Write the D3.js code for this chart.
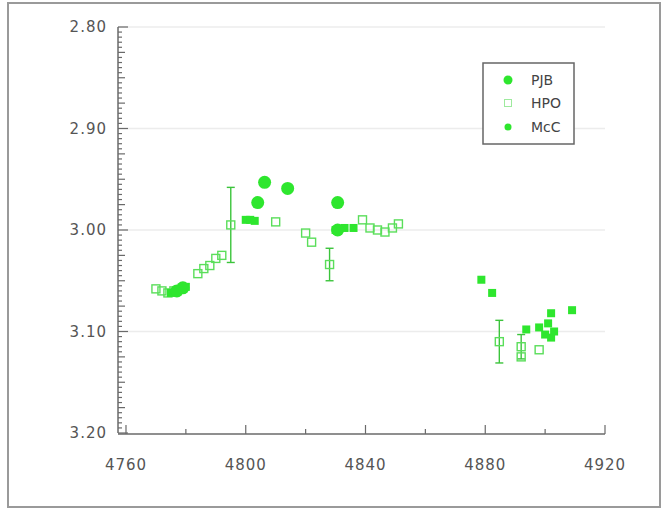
<!DOCTYPE html>
<html><head><meta charset="utf-8">
<script src="https://cdn.jsdelivr.net/npm/d3@7"></script>
<style>body{margin:0;background:#fff}svg{display:block}text{font-family:"DejaVu Sans",sans-serif}</style>
</head><body><svg id="c" width="666" height="512"></svg>
<script>
// ---- data ----
const yTicks = [2.80, 2.90, 3.00, 3.10, 3.20];
const xTicks = [4760, 4800, 4840, 4880, 4920];
const seriesNames = ["PJB", "HPO", "McC"];
// PJB: filled circles
const pjbX = [4777, 4779, 4804, 4806.3, 4814, 4830.7, 4830.7];
const pjbY = [3.060, 3.057, 2.973, 2.953, 2.959, 2.973, 3.000];
// HPO: open squares (with optional error)
const hpoX = [4770, 4772, 4774, 4776, 4784, 4786, 4788, 4790, 4792, 4795, 4810, 4820, 4822, 4828, 4839, 4841.5, 4844, 4846.5, 4849, 4851, 4884.7, 4892, 4892, 4898];
const hpoY = [3.058, 3.060, 3.062, 3.060, 3.043, 3.038, 3.035, 3.028, 3.025, 2.995, 2.992, 3.003, 3.012, 3.034, 2.990, 2.998, 3.000, 3.002, 2.998, 2.994, 3.110, 3.115, 3.125, 3.118];
const hpoErr = [0, 0, 0, 0, 0, 0, 0, 0, 0, 0.037, 0, 0, 0, 0.016, 0, 0, 0, 0, 0, 0, 0.021, 0.012, 0, 0];
// McC: small filled markers
const mccX = [4775, 4780, 4800, 4801.5, 4803, 4830, 4833, 4836, 4878.7, 4882.3, 4893.7, 4898, 4900, 4901, 4902, 4903, 4902, 4909];
const mccY = [3.062, 3.056, 2.990, 2.990, 2.991, 3.000, 2.998, 2.998, 3.049, 3.062, 3.098, 3.096, 3.103, 3.092, 3.106, 3.100, 3.082, 3.079];

const svg = d3.select("#c");
const green = "#2ee62e";
// outer frame
svg.append("rect").attr("x", 8).attr("y", 3).attr("width", 652).attr("height", 504)
  .attr("fill", "none").attr("stroke", "#9a9a9a").attr("stroke-width", 2);

const x = d3.scaleLinear().domain([4757.33, 4920]).range([118, 605]);
const y = d3.scaleLinear().domain([2.80, 3.20]).range([27, 433]);

// grid
svg.append("g").selectAll("line").data(yTicks.slice(0, 4)).join("line")
  .attr("x1", x(4757.33)).attr("x2", x(4920)).attr("y1", d => y(d)).attr("y2", d => y(d))
  .attr("stroke", "#ececec").attr("stroke-width", 1.5);

// y axis
const yMinor = d3.range(0, 81).map(i => 2.80 + i * 0.005);
const yAx = svg.append("g").attr("transform", "translate(118,0)");
yAx.append("line").attr("y1", y(2.80)).attr("y2", y(3.20)).attr("stroke", "#6a6a6a").attr("stroke-width", 1.5);
yAx.selectAll("line.m").data(yMinor).join("line").attr("class", "m")
  .attr("x1", 0).attr("x2", (d, i) => i % 20 === 0 ? 10 : (i % 5 === 0 ? 7 : 4))
  .attr("y1", d => y(d)).attr("y2", d => y(d)).attr("stroke", "#6a6a6a").attr("stroke-width", 1.2);
yAx.selectAll("text").data(yTicks).join("text")
  .attr("x", -11).attr("y", d => y(d)).attr("dy", "0.35em").attr("text-anchor", "end")
  .attr("font-size", 15).attr("letter-spacing", 1).attr("fill", "#555")
  .text(d => d3.format(".2f")(d));

// x axis
const xAx = svg.append("g").attr("transform", "translate(0,434)");
xAx.append("line").attr("x1", x(4757.33)).attr("x2", x(4920)).attr("stroke", "#6a6a6a").attr("stroke-width", 1.5);
const xMinor = d3.range(4760, 4921, 20);
xAx.selectAll("line.t").data(xMinor).join("line").attr("class", "t")
  .attr("x1", d => x(d)).attr("x2", d => x(d)).attr("y1", 0)
  .attr("y2", d => (d - 4760) % 40 === 0 ? -9 : -5).attr("stroke", "#6a6a6a").attr("stroke-width", 1.2);
xAx.selectAll("text").data(xTicks).join("text")
  .attr("x", d => x(d)).attr("y", 36).attr("text-anchor", "middle")
  .attr("font-size", 15).attr("letter-spacing", 1).attr("fill", "#555")
  .text(d => d);

// HPO error bars
const hpo = hpoX.map((v, i) => ({x: v, y: hpoY[i], e: hpoErr[i]}));
const eb = svg.append("g").attr("stroke", "#3bc43b").attr("stroke-width", 1.4);
hpo.filter(d => d.e > 0).forEach(d => {
  eb.append("line").attr("x1", x(d.x)).attr("x2", x(d.x)).attr("y1", y(d.y - d.e)).attr("y2", y(d.y + d.e));
  [d.y - d.e, d.y + d.e].forEach(v => eb.append("line").attr("x1", x(d.x) - 4).attr("x2", x(d.x) + 4).attr("y1", y(v)).attr("y2", y(v)));
});
// HPO squares
svg.append("g").selectAll("rect").data(hpo).join("rect")
  .attr("x", d => x(d.x) - 4).attr("y", d => y(d.y) - 4).attr("width", 8).attr("height", 8)
  .attr("fill", "none").attr("stroke", "#5ade5a").attr("stroke-width", 1.4);
// McC
const mcc = mccX.map((v, i) => ({x: v, y: mccY[i]}));
svg.append("g").selectAll("rect").data(mcc).join("rect")
  .attr("x", d => x(d.x) - 4).attr("y", d => y(d.y) - 4).attr("width", 8).attr("height", 8)
  .attr("fill", green);
// PJB
const pjb = pjbX.map((v, i) => ({x: v, y: pjbY[i]}));
svg.append("g").selectAll("circle").data(pjb).join("circle")
  .attr("cx", d => x(d.x)).attr("cy", d => y(d.y)).attr("r", 6.5).attr("fill", green);

// legend
const lg = svg.append("g");
lg.append("rect").attr("x", 483).attr("y", 63).attr("width", 91).attr("height", 81)
  .attr("fill", "#fff").attr("stroke", "#666").attr("stroke-width", 1.5);
const ly = [80, 103, 127];
seriesNames.forEach((n, i) => {
  if (n === "PJB") lg.append("circle").attr("cx", 508).attr("cy", ly[i]).attr("r", 4.5).attr("fill", green);
  else if (n === "HPO") lg.append("rect").attr("x", 504.5).attr("y", ly[i] - 3.5).attr("width", 7).attr("height", 7).attr("fill", "none").attr("stroke", "#9eea9e");
  else lg.append("circle").attr("cx", 508).attr("cy", ly[i]).attr("r", 3.5).attr("fill", green);
  lg.append("text").attr("x", 531).attr("y", ly[i]).attr("dy", "0.35em").attr("font-size", 14)
    .attr("fill", "#444").text(n);
});
</script></body></html>
